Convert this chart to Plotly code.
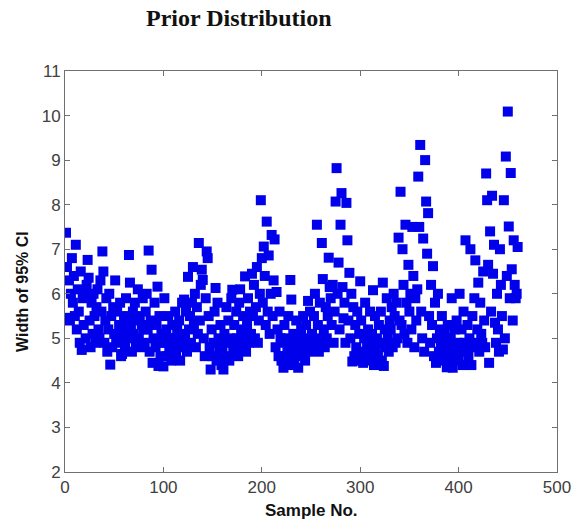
import plotly.graph_objects as go

# Width of 95% CI for each sample (sample 1..460)
ci_width = [
    7.37, 6.6, 5.46, 6.3, 5.4, 6.0, 6.8, 5.8, 6.4, 5.5,
    7.1, 5.2, 6.1, 5.6, 4.9, 6.5, 4.74, 5.9, 5.3, 6.0,
    5.0, 6.2, 6.76, 6.36, 5.4, 4.8, 5.8, 5.1, 6.0, 5.5,
    4.9, 5.7, 6.1, 5.2, 5.0, 6.3, 5.6, 6.95, 6.5, 4.9,
    5.4, 5.9, 4.7, 5.2, 6.0, 4.41, 5.5, 4.8, 5.7, 5.1,
    6.3, 4.9, 5.6, 5.0, 5.3, 5.8, 4.6, 4.65, 5.2, 5.5,
    4.8, 5.9, 5.4, 5.0, 6.87, 6.25, 5.2, 4.7, 5.6, 5.1,
    5.8, 4.9, 5.4, 6.1, 5.0, 5.5, 4.8, 5.3, 5.9, 5.2,
    4.9, 5.6, 6.0, 5.2, 6.97, 4.7, 5.4, 6.54, 4.45, 5.0,
    5.8, 4.8, 5.3, 6.16, 4.38, 5.5, 4.6, 5.1, 4.9, 4.37,
    5.9, 4.9, 5.2, 4.6, 5.5, 4.8, 5.0, 4.5, 5.3, 4.7,
    5.0, 5.6, 4.6, 5.2, 4.8, 5.4, 4.5, 5.1, 5.8, 4.9,
    5.87, 5.0, 5.6, 4.7, 6.38, 5.2, 5.5, 4.9, 5.8, 6.6,
    5.3, 6.0, 4.8, 5.7, 5.1, 7.14, 5.4, 6.2, 6.54, 6.31,
    5.0, 4.6, 5.9, 6.95, 6.8, 5.5, 4.8, 4.3, 5.2, 4.6,
    4.9, 5.6, 6.13, 4.5, 5.8, 5.0, 4.7, 5.3, 4.4, 4.8,
    4.3, 5.1, 4.6, 5.7, 4.9, 5.4, 4.5, 5.0, 5.9, 6.09,
    4.7, 5.3, 4.9, 5.6, 5.0, 4.6, 5.8, 6.1, 5.2, 4.8,
    5.5, 5.0, 6.39, 4.7, 5.3, 5.9, 4.9, 5.6, 5.1, 6.45,
    5.5, 6.2, 5.0, 5.7, 6.6, 4.9, 5.4, 6.0, 8.1, 6.8,
    5.8, 7.06, 6.4, 5.3, 7.62, 5.6, 6.86, 5.1, 6.0, 7.32,
    5.5, 6.3, 7.22, 4.8, 6.04, 5.2, 4.6, 5.6, 5.0, 4.5,
    4.9, 4.34, 5.3, 4.6, 5.0, 4.8, 5.5, 4.4, 6.31, 5.87,
    4.7, 5.1, 4.5, 4.9, 5.4, 4.6, 4.34, 5.0, 4.8, 5.2,
    4.6, 5.5, 4.9, 4.5, 5.3, 5.0, 5.84, 4.7, 5.6, 4.8,
    5.1, 4.8, 5.5, 6.0, 4.9, 7.55, 5.3, 4.7, 5.8, 5.0,
    7.14, 6.33, 5.2, 4.8, 5.7, 5.0, 5.5, 6.81, 6.15, 5.9,
    5.3, 6.2, 4.9, 5.6, 8.07, 8.82, 6.0, 6.7, 5.2, 7.55,
    8.26, 6.15, 5.45, 5.8, 4.9, 8.04, 7.2, 5.4, 6.47, 5.0,
    6.0, 4.48, 5.7, 4.6, 5.3, 4.8, 5.6, 4.5, 5.1, 6.28,
    5.4, 4.7, 4.45, 5.0, 5.8, 4.6, 4.9, 5.2, 4.5, 5.6,
    4.8, 5.1, 6.08, 4.4, 5.5, 4.7, 5.0, 4.6, 5.3, 4.9,
    5.6, 4.5, 6.25, 4.38, 5.2, 4.8, 5.9, 5.0, 4.7, 5.4,
    5.2, 5.7, 4.8, 6.0, 5.5, 4.9, 5.8, 5.0, 7.26, 5.4,
    8.29, 5.3, 7.0, 6.2, 5.1, 7.55, 5.8, 4.9, 6.65, 5.6,
    6.0, 5.2, 7.5, 6.4, 4.8, 5.9, 5.4, 6.1, 8.63, 7.5,
    9.34, 5.6, 5.0, 7.24, 4.7, 9.0, 8.07, 6.9, 7.81, 5.5,
    4.9, 6.2, 5.3, 6.62, 4.6, 5.8, 4.45, 5.0, 6.0, 4.7,
    5.2, 4.8, 5.5, 4.5, 4.9, 5.1, 4.6, 4.35, 5.3, 4.8,
    4.5, 5.0, 5.9, 4.34, 4.7, 5.2, 4.6, 5.4, 4.9, 4.5,
    6.0, 4.7, 5.2, 4.4, 5.6, 4.9, 7.2, 4.8, 5.3, 4.6,
    5.0, 7.0, 4.4, 5.5, 4.8, 5.9, 6.75, 4.9, 5.2, 6.25,
    4.7, 5.8, 5.1, 4.9, 6.5, 5.4, 4.8, 8.7, 8.1, 6.65,
    4.45, 7.4, 5.6, 8.2, 6.45, 7.1, 5.35, 4.9, 6.0, 5.2,
    4.7, 7.0, 6.2, 5.5, 4.75, 8.1, 5.0, 9.08, 6.4, 10.09,
    7.51, 5.9, 8.71, 6.55, 5.4, 7.2, 6.2, 5.9, 6.0, 7.05,
]
sample_no = list(range(1, len(ci_width) + 1))

x_ticks = [0, 100, 200, 300, 400, 500]
y_ticks = [2, 3, 4, 5, 6, 7, 8, 9, 10, 11]

fig = go.Figure()
fig.add_trace(go.Scatter(
    x=sample_no, y=ci_width, mode="markers",
    marker=dict(symbol="square", size=10, color="rgb(0,0,235)", line=dict(width=0)),
    showlegend=False, hoverinfo="skip",
))

axis_common = dict(
    showline=True, mirror="ticks", linecolor="#707070", linewidth=1,
    ticks="inside", ticklen=5, tickcolor="#707070",
    showgrid=False, zeroline=False, automargin=False,
    tickfont=dict(family="Liberation Sans, Arial", size=17, color="#404040"),
)
fig.update_xaxes(range=[0, 500], tickvals=x_ticks, **axis_common)
fig.update_yaxes(range=[2, 11], tickvals=y_ticks, **axis_common)

fig.update_layout(
    width=577, height=524, autosize=False,
    margin=dict(l=65, r=20, t=71, b=52),
    plot_bgcolor="white", paper_bgcolor="white",
    annotations=[
        dict(text="<b>Prior Distribution</b>", xref="paper", yref="paper",
             x=(239 - 65) / 492, y=1 + (71 - 18) / 401, showarrow=False,
             xanchor="center", yanchor="middle",
             font=dict(family="Liberation Serif, Times New Roman", size=24, color="#111")),
        dict(text="<b>Sample No.</b>", xref="paper", yref="paper",
             x=0.5, y=-(510 - 472) / 401, showarrow=False,
             xanchor="center", yanchor="middle",
             font=dict(family="Liberation Sans, Arial", size=17, color="#111")),
        dict(text="<b>Width of 95% CI</b>", xref="paper", yref="paper",
             x=-(65 - 22) / 492, y=1 - (292 - 71) / 401, showarrow=False, textangle=-90,
             xanchor="center", yanchor="middle",
             font=dict(family="Liberation Sans, Arial", size=16, color="#111")),
    ],
)

# Remove the default 8px body margin so the 577x524 figure fills the window,
# then re-apply the fixed size.
post = (
    "document.body.style.margin='0';"
    "document.body.style.overflow='hidden';"
    "var gd=document.getElementById('{plot_id}');"
    "Plotly.relayout(gd,{width:577,height:524});"
)
fig.write_html("out.html", post_script=post,
               config={"displayModeBar": False, "responsive": False})
